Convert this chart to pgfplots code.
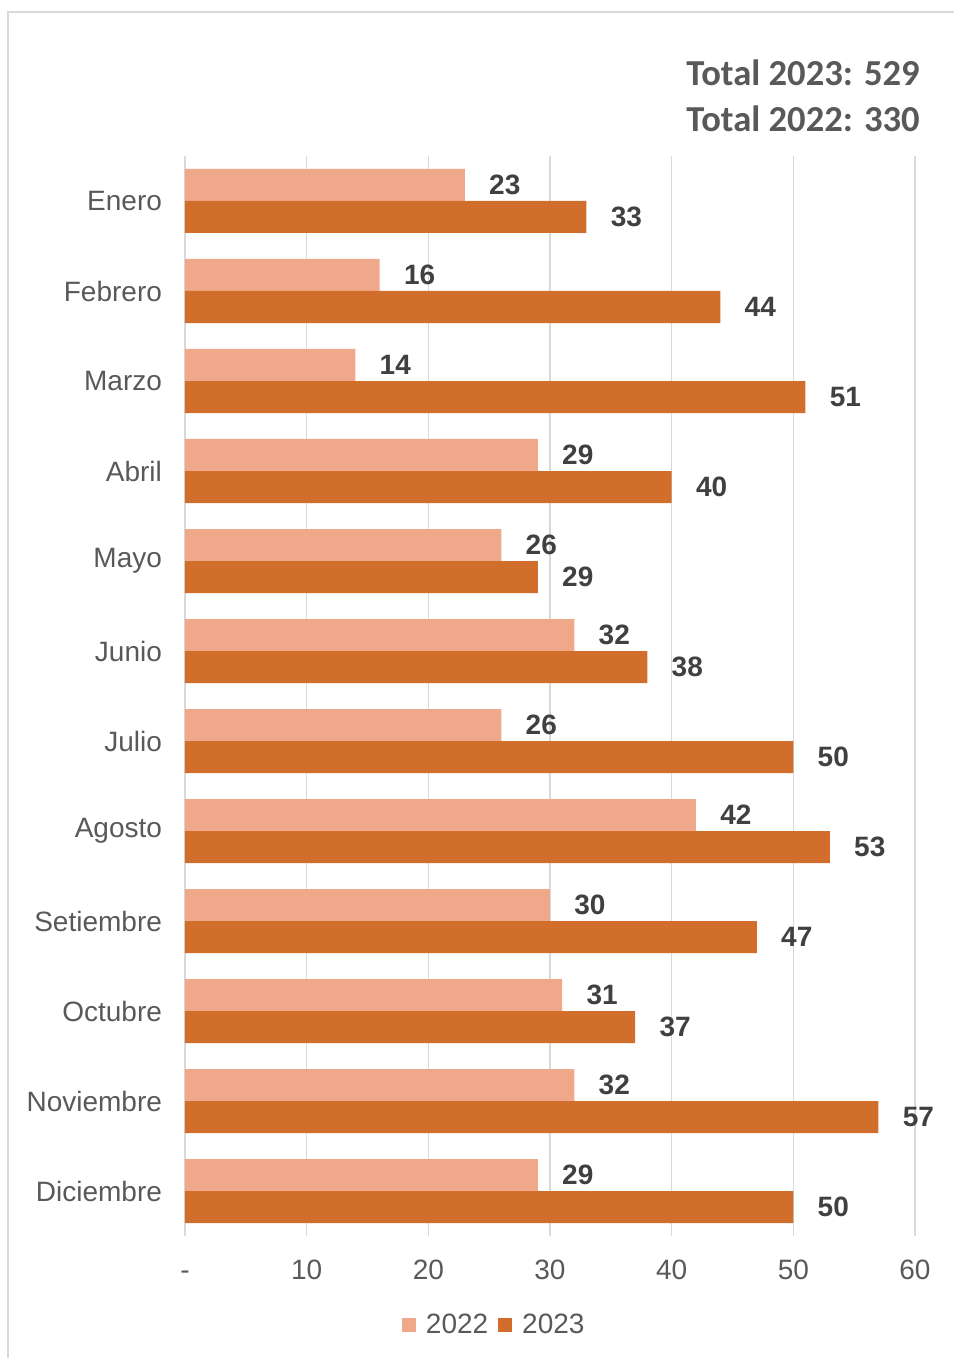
\documentclass[border=0pt]{standalone}
\usepackage{pgfplots}
\pgfplotsset{compat=1.18}
\usepackage{fontspec}
\setmainfont{Liberation Sans}
\newfontfamily\totfont{Carlito}
\definecolor{c22}{HTML}{F0A88A}
\definecolor{c23}{HTML}{D26E2C}
\definecolor{txt}{HTML}{595959}
\definecolor{lbl}{HTML}{404040}
\definecolor{grid}{HTML}{D9D9D9}
\definecolor{frame}{HTML}{D9D9D9}
\begin{document}
\begin{tikzpicture}
\path[use as bounding box] (-92.5pt,-61pt) rectangle (384.5pt,618pt);
\draw[frame, line width=0.75pt] (-88.5pt,-61pt) -- (-88.5pt,612pt) -- (384.5pt,612pt);
\begin{axis}[
  at={(0,0)}, anchor=south west,
  scale only axis, width=365pt, height=540pt,
  xbar, bar width=16pt,
  xmin=0, xmax=60,
  ymin=-0.5, ymax=11.5, y dir=reverse,
  ytick={0,...,11},
  yticklabels={Enero,Febrero,Marzo,Abril,Mayo,Junio,Julio,Agosto,Setiembre,Octubre,Noviembre,Diciembre},
  xtick={0,10,...,60},
  xticklabels={-,10,20,30,40,50,60},
  /pgf/number format/assume math mode=true,
  axis lines=left,
  axis line style={-},
  x axis line style={draw=none},
  y axis line style={draw=grid, line width=0.9pt},
  major tick length=0pt,
  xmajorgrids, major grid style={draw=grid, line width=0.75pt},
  ticklabel style={font=\fontsize{14}{16}\selectfont, text=txt},
  yticklabel style={xshift=-8pt},
  xticklabel style={yshift=-8pt, text height=10pt, text depth=0pt},
  nodes near coords,
  every node near coord/.append style={anchor=west, xshift=12pt, inner sep=0pt, font=\fontsize{14}{16}\selectfont\bfseries, text=lbl},
  legend columns=2,
  legend style={at={(0.425,-0.0824)}, anchor=center, draw=none, fill=none, font=\fontsize{14}{16}\selectfont, text=txt, column sep=3pt, inner sep=0pt},
  legend image code/.code={\fill[#1, draw=none] (0pt,-3.5pt) rectangle (7pt,3.5pt);},
  clip=false,
]
\addplot[fill=c22, draw=none, bar shift=-0.1778] coordinates {
(23,0) (16,1) (14,2) (29,3) (26,4) (32,5) (26,6) (42,7) (30,8) (31,9) (32,10) (29,11)};
\addplot[fill=c23, draw=none, bar shift=0.1778] coordinates {
(33,0) (44,1) (51,2) (40,3) (29,4) (38,5) (50,6) (53,7) (47,8) (37,9) (57,10) (50,11)};
\legend{2022,2023}
\end{axis}
\node[anchor=base east, inner sep=0pt, text=txt, font=\totfont\fontsize{18.3}{22}\selectfont\bfseries] at (367.5pt,575pt) {Total 2023: 529};
\node[anchor=base east, inner sep=0pt, text=txt, font=\totfont\fontsize{18.3}{22}\selectfont\bfseries] at (367.5pt,552pt) {Total 2022: 330};
\end{tikzpicture}
\end{document}
